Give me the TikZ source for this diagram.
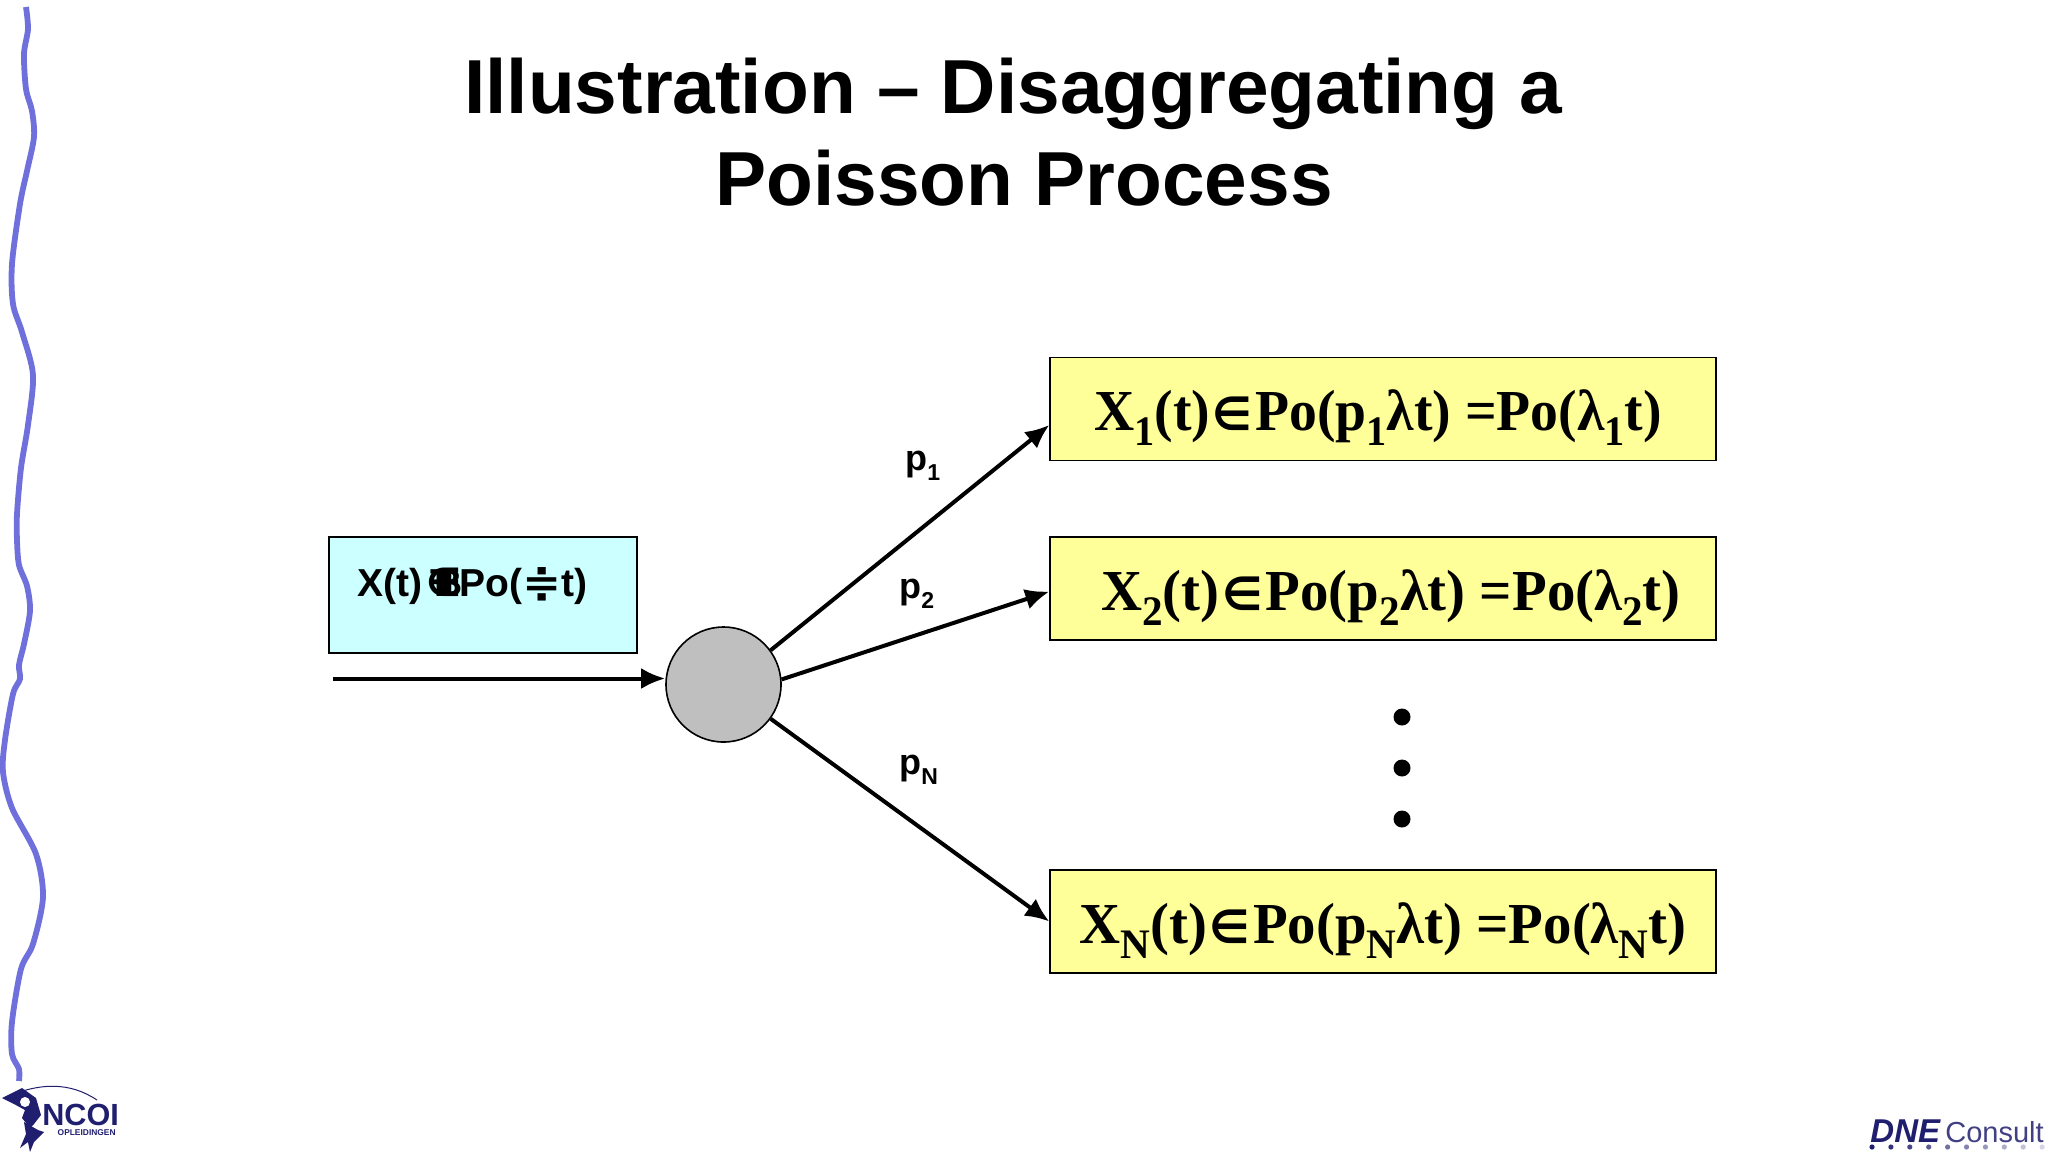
\documentclass[tikz,border=0pt]{standalone}
\usepackage{fontspec}
\setmainfont{Liberation Serif}
\setsansfont{Liberation Sans}
\newfontfamily\symfont{DejaVu Sans}
\usetikzlibrary{arrows.meta,positioning,calc}
\newcommand{\lowsub}[1]{\raisebox{-0.27em}{\fontsize{21}{21}\selectfont #1}}
\newcommand{\lowp}[1]{\raisebox{-0.3em}{\fontsize{11.5}{12}\selectfont #1}}
\newcommand{\memb}{\kern.05em{\symfont\fontsize{23}{24}\selectfont ∈}\kern.05em}
\definecolor{wavecol}{RGB}{112,112,220}
\definecolor{logonavy}{RGB}{32,30,110}
\definecolor{srcfill}{RGB}{204,255,255}
\definecolor{resfill}{RGB}{255,255,153}
\tikzset{
srcbox/.style={
  draw=black, line width=0.7pt, fill=srcfill,
  minimum width=154pt, minimum height=58pt, inner sep=0pt
  },
resbox/.style={
  draw=black, line width=0.7pt, fill=resfill,
  minimum width=333pt, minimum height=51.5pt, inner sep=0pt
  },
restext/.style={
  font=\rmfamily\bfseries\fontsize{29}{32}\selectfont, anchor=base, inner sep=0pt
  },
srctext/.style={
  font=\sffamily\bfseries\fontsize{19.5}{22}\selectfont, anchor=base west, inner sep=0pt
  },
plabel/.style={
  font=\sffamily\bfseries\fontsize{18}{20}\selectfont, anchor=base west, inner sep=0pt
  },
flow/.style={
  line width=2pt, -{Latex[length=12pt,width=10.5pt]}
  },
vdot/.style={
  circle, fill=black, minimum size=8.5pt, inner sep=0pt
  },
fadedot/.style={
  circle, minimum size=2.6pt, inner sep=0pt
  }
}
\begin{document}
\begin{tikzpicture}[x=0.5pt,y=-0.5pt]
\useasboundingbox (0,0) rectangle (2048,1152);

% wavy line on the left
\draw[wavecol,line width=2.9pt,line join=round]
  plot[smooth,tension=0.5] coordinates {
  (26,7) (28,29) (24,54) (26,89) (32,111) (34,137) (27,171) (20,204)
  (12,264) (13,304) (22,332) (33,375) (28,425) (21,468) (17,514) (17,540)
  (19,565) (27,586) (30,611) (24,644) (19,665) (20,679) (13,694) (5,740)
  (3,772) (12,808) (36,854) (43,897) (33,944) (21,969) (12,1022)
  (12,1054) (19,1069) (19,1081)};

% title
\node[font=\sffamily\bfseries\fontsize{38.3}{45.75}\selectfont,align=center]
  (title) at (1024,132) {Illustration -- Disaggregating a\kern.278em\relax\\Poisson Process};

% input
\node[srcbox] (src) at (483,595) {};
\node[srctext] (srclabel) at (357,596)
  {X(t)\kern.1em\rlap{\symfont ∈}\rlap{\kern.1em T}\rlap{\kern.2em B}\rlap{\kern.35em I}\rlap{\kern.45em I}\kern.86em Po(\scalebox{1.2}[1]{\symfont ≑}t)};
\node[circle,draw=black,line width=0.8pt,fill=black!25,minimum size=57.5pt,inner sep=0pt]
  (dot) at (723.5,684.5) {};
\coordinate (srcstart) at (333,678.5);
\draw[flow] (srcstart) -- (srcstart -| dot.west);

% results
\node[resbox] (box1) at (1383,409) {};
\node[resbox] (box2) at (1383,588.5) {};
\node[resbox] (boxN) at (1383,921.5) {};

\node[restext] (res1) at (1378,430)
  {\scalebox{0.96}[1]{X\lowsub{1}(t)\memb Po(p\lowsub{1}λt) =Po(λ\lowsub{1}t)}};
\node[restext] (res2) at (1391,610)
  {\scalebox{0.98}[1]{X\lowsub{2}(t)\memb Po(p\lowsub{2}λt) =Po(λ\lowsub{2}t)}};
\node[restext] (resN) at (1383,943)
  {\scalebox{0.98}[1]{X\lowsub{N}(t)\memb Po(p\lowsub{N}λt) =Po(λ\lowsub{N}t)}};

\draw[flow] (dot.36) -- ([yshift=-8pt]box1.west);
\draw[flow] (dot.5) -- ([yshift=-1.5pt]box2.west);
\draw[flow] (dot.-36) -- (boxN.west);

\node[plabel] (p1) at (905,470) {p\lowp{1}};
\node[plabel] (p2) at (899,598) {p\lowp{2}};
\node[plabel] (pN) at (899,774) {p\lowp{N}};

\foreach \n/\y in {a/717,b/768,c/819}
  \node[vdot] (vdot\n) at (1402,\y) {};

% NCOI logo
\node[font=\sffamily\bfseries\fontsize{15.3}{16}\selectfont,text=logonavy,anchor=base west,inner sep=0pt]
  (ncoi) at (42,1125) {NCOI};
\node[font=\sffamily\bfseries\fontsize{4.2}{5}\selectfont,text=logonavy,anchor=base east,inner sep=0pt]
  (opl) at (116,1135) {OPLEIDINGEN};
\draw[logonavy,line width=0.5pt] (4,1098) .. controls (40,1082) and (70,1082) .. (97,1100);
\fill[logonavy] (2,1098) -- (22,1088) -- (36,1098) -- (41,1115) -- (34,1124) -- (30,1128)
  -- (22,1118) -- (25,1110) -- (14,1104) -- cycle;
\fill[white] (25,1102) circle[radius=5];
\fill[logonavy] (24,1122) -- (38,1130) -- (44,1132) -- (34,1142) -- (30,1152) -- (28,1142)
  -- (20,1148) -- (26,1134) -- cycle;

% DNE logo
\node[font=\sffamily\bfseries\itshape\fontsize{16.5}{17}\selectfont,text=logonavy,anchor=base west,inner sep=0pt]
  (dne) at (1870,1142) {DNE};
\node[font=\sffamily\fontsize{14.5}{15}\selectfont,text=logonavy!85!white,anchor=base west,inner sep=0pt]
  (consult) at (1945,1142) {Consult};
\foreach \i in {0,...,9}
  \node[fadedot,fill=logonavy!\the\numexpr100-\i*9\relax!white] (fd\i) at (1872+\i*18.9,1147) {};
\end{tikzpicture}
\end{document}
